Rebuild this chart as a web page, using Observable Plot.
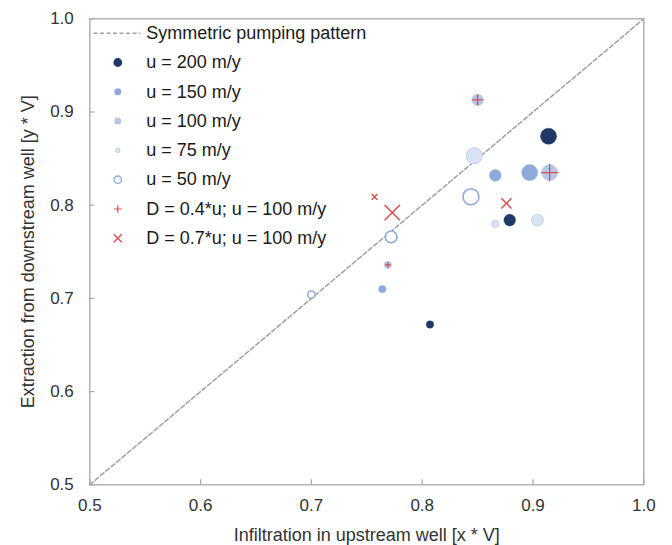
<!DOCTYPE html>
<html><head><meta charset="utf-8">
<script src="https://cdn.jsdelivr.net/npm/d3@7"></script>
<script src="https://cdn.jsdelivr.net/npm/@observablehq/plot@0.6"></script>
<style>
body{margin:0;background:#fff}
svg{font-family:"Liberation Sans",Arial,sans-serif}
</style>
</head><body><div id="chart"></div>
<script>
// ---- data ----
const xTicks = [0.5, 0.6, 0.7, 0.8, 0.9, 1.0];
const yTicks = [0.5, 0.6, 0.7, 0.8, 0.9, 1.0];
const symmetric = [0.5, 1.0];

const u200X = [0.914, 0.879, 0.807];
const u200Y = [0.874, 0.784, 0.672];
const u150X = [0.897, 0.866, 0.764];
const u150Y = [0.835, 0.832, 0.710];
const u100X = [0.915, 0.850, 0.769];
const u100Y = [0.835, 0.913, 0.736];
const u75X  = [0.847, 0.904, 0.866];
const u75Y  = [0.853, 0.784, 0.780];
const u50X  = [0.844, 0.772, 0.700];
const u50Y  = [0.809, 0.766, 0.704];
const d04X  = [0.915, 0.850, 0.769];
const d04Y  = [0.835, 0.913, 0.736];
const d07X  = [0.773, 0.876, 0.757];
const d07Y  = [0.792, 0.802, 0.809];
const sizeLevel = [3, 2, 1]; // marker size class of each point within a series

const legendLabels = [
  "Symmetric pumping pattern", "u = 200 m/y", "u = 150 m/y", "u = 100 m/y",
  "u = 75 m/y", "u = 50 m/y", "D = 0.4*u; u = 100 m/y", "D = 0.7*u; u = 100 m/y"
];
const xLabel = "Infiltration in upstream well [x * V]";
const yLabel = "Extraction from downstream well [y * V]";

// ---- styles ----
const C = {
  u200: "#1f3864", u150: "#8eaadb", u100: "#b4c7e7", u75: "#dae3f3", u75s: "#bfd0ea",
  u50: "#8eaadb", red: "#dc4e4e", grid: "#a6a6a6", diag: "#a0a0a0", text: "#333333"
};
const plusR = {1: 2.0, 2: 3.5, 3: 5.6};
const timesR = {1: 2.7, 2: 4.7, 3: 7};

const rows = (xs, ys) => xs.map((x, i) => ({x, y: ys[i], level: sizeLevel[i]}));
const S = {
  u200: rows(u200X, u200Y), u150: rows(u150X, u150Y), u100: rows(u100X, u100Y),
  u75: rows(u75X, u75Y), u50: rows(u50X, u50Y), d04: rows(d04X, d04Y), d07: rows(d07X, d07Y)
};

const W = 672, H = 545, mL = 89.3, mR = 28.7, mT = 18.3, mB = 60.7;
const plotW = W - mL - mR, plotH = H - mT - mB;

const marks = [
  Plot.line(symmetric, {x: d => d, y: d => d, stroke: C.diag, strokeWidth: 1.5, strokeDasharray: "4.5,2.5"}),
  Plot.ruleX(xTicks, {x: d => d, insetTop: plotH - 5, stroke: C.grid, strokeWidth: 1.2}),
  Plot.ruleY(yTicks, {y: d => d, insetRight: plotW - 5, stroke: C.grid, strokeWidth: 1.2}),
  Plot.frame({stroke: C.grid, strokeWidth: 1.3}),
  Plot.axisX(xTicks, {tickSize: 0, tickPadding: 14, tickFormat: ".1f", fontSize: 17, fill: C.text, label: null}),
  Plot.axisY(yTicks, {tickSize: 0, tickPadding: 16, tickFormat: ".1f", fontSize: 17, fill: C.text, label: null}),
  Plot.text([xLabel], {frameAnchor: "bottom", dy: 50.7, text: d => d, fontSize: 18, fill: C.text, textAnchor: "middle", lineAnchor: "middle"}),
  Plot.text([yLabel], {frameAnchor: "left", dx: -62, rotate: -90, text: d => d, fontSize: 18, fill: C.text, textAnchor: "middle", lineAnchor: "middle"}),
  Plot.dot(S.u200, {x: "x", y: "y", r: "level", fill: C.u200, stroke: C.u200, strokeWidth: 0.5}),
  Plot.dot(S.u150, {x: "x", y: "y", r: "level", fill: C.u150, stroke: C.u150, strokeWidth: 0.5}),
  Plot.dot(S.u100, {x: "x", y: "y", r: "level", fill: C.u100, stroke: C.u100, strokeWidth: 0.5}),
  Plot.dot(S.u75,  {x: "x", y: "y", r: "level", fill: C.u75, stroke: C.u75s, strokeWidth: 1}),
  Plot.dot(S.u50,  {x: "x", y: "y", r: "level", fill: "white", stroke: C.u50, strokeWidth: 1.6})
];
for (const lv of [1, 2, 3]) {
  marks.push(Plot.dot(S.d04.filter(d => d.level === lv), {x: "x", y: "y", symbol: "plus", r: plusR[lv], stroke: C.red, strokeWidth: 1.3}));
  marks.push(Plot.dot(S.d07.filter(d => d.level === lv), {x: "x", y: "y", symbol: "times", r: timesR[lv], stroke: C.red, strokeWidth: 1.5}));
}

// ---- legend (inside the frame, top-left) ----
const lgDx = 28, lgTx = 56.4, lgY0 = 14.4, lgStep = 29.3;
const lgY = i => lgY0 + i * lgStep;
const dashSym = {draw(ctx) { ctx.moveTo(-23.5, 0); ctx.lineTo(23.5, 0); }};
marks.push(
  Plot.dot([0], {frameAnchor: "top-left", dx: 27.2, dy: lgY(0), symbol: dashSym, fill: "none", stroke: C.diag, strokeWidth: 1.5, strokeDasharray: "4,2.5"}),
  Plot.dot([0], {frameAnchor: "top-left", dx: lgDx, dy: lgY(1), r: 4.4, fill: C.u200}),
  Plot.dot([0], {frameAnchor: "top-left", dx: lgDx, dy: lgY(2), r: 3.5, fill: C.u150}),
  Plot.dot([0], {frameAnchor: "top-left", dx: lgDx, dy: lgY(3), r: 3.5, fill: C.u100}),
  Plot.dot([0], {frameAnchor: "top-left", dx: lgDx, dy: lgY(4), r: 2.2, fill: C.u75, stroke: C.u75s, strokeWidth: 1}),
  Plot.dot([0], {frameAnchor: "top-left", dx: lgDx, dy: lgY(5), r: 3.7, fill: "white", stroke: C.u50, strokeWidth: 1.4}),
  Plot.dot([0], {frameAnchor: "top-left", dx: lgDx, dy: lgY(6), symbol: "plus", r: 2.6, stroke: C.red, strokeWidth: 1.2}),
  Plot.dot([0], {frameAnchor: "top-left", dx: lgDx, dy: lgY(7), symbol: "times", r: 3.7, stroke: C.red, strokeWidth: 1.4})
);
legendLabels.forEach((lab, i) => {
  marks.push(Plot.text([lab], {frameAnchor: "top-left", dx: lgTx, dy: lgY(i), text: d => d, textAnchor: "start", lineAnchor: "middle", fontSize: 18, fill: "#1a1a1a"}));
});

const chart = Plot.plot({
  width: W, height: H,
  marginLeft: mL, marginRight: mR, marginTop: mT, marginBottom: mB,
  style: {fontFamily: "'Liberation Sans', Arial, sans-serif", background: "white"},
  x: {domain: [0.5, 1.0], axis: null},
  y: {domain: [0.5, 1.0], axis: null},
  r: {type: "linear", domain: [1, 3], range: [3.7, 8]},
  marks
});
document.getElementById("chart").appendChild(chart);
</script>
</body></html>
